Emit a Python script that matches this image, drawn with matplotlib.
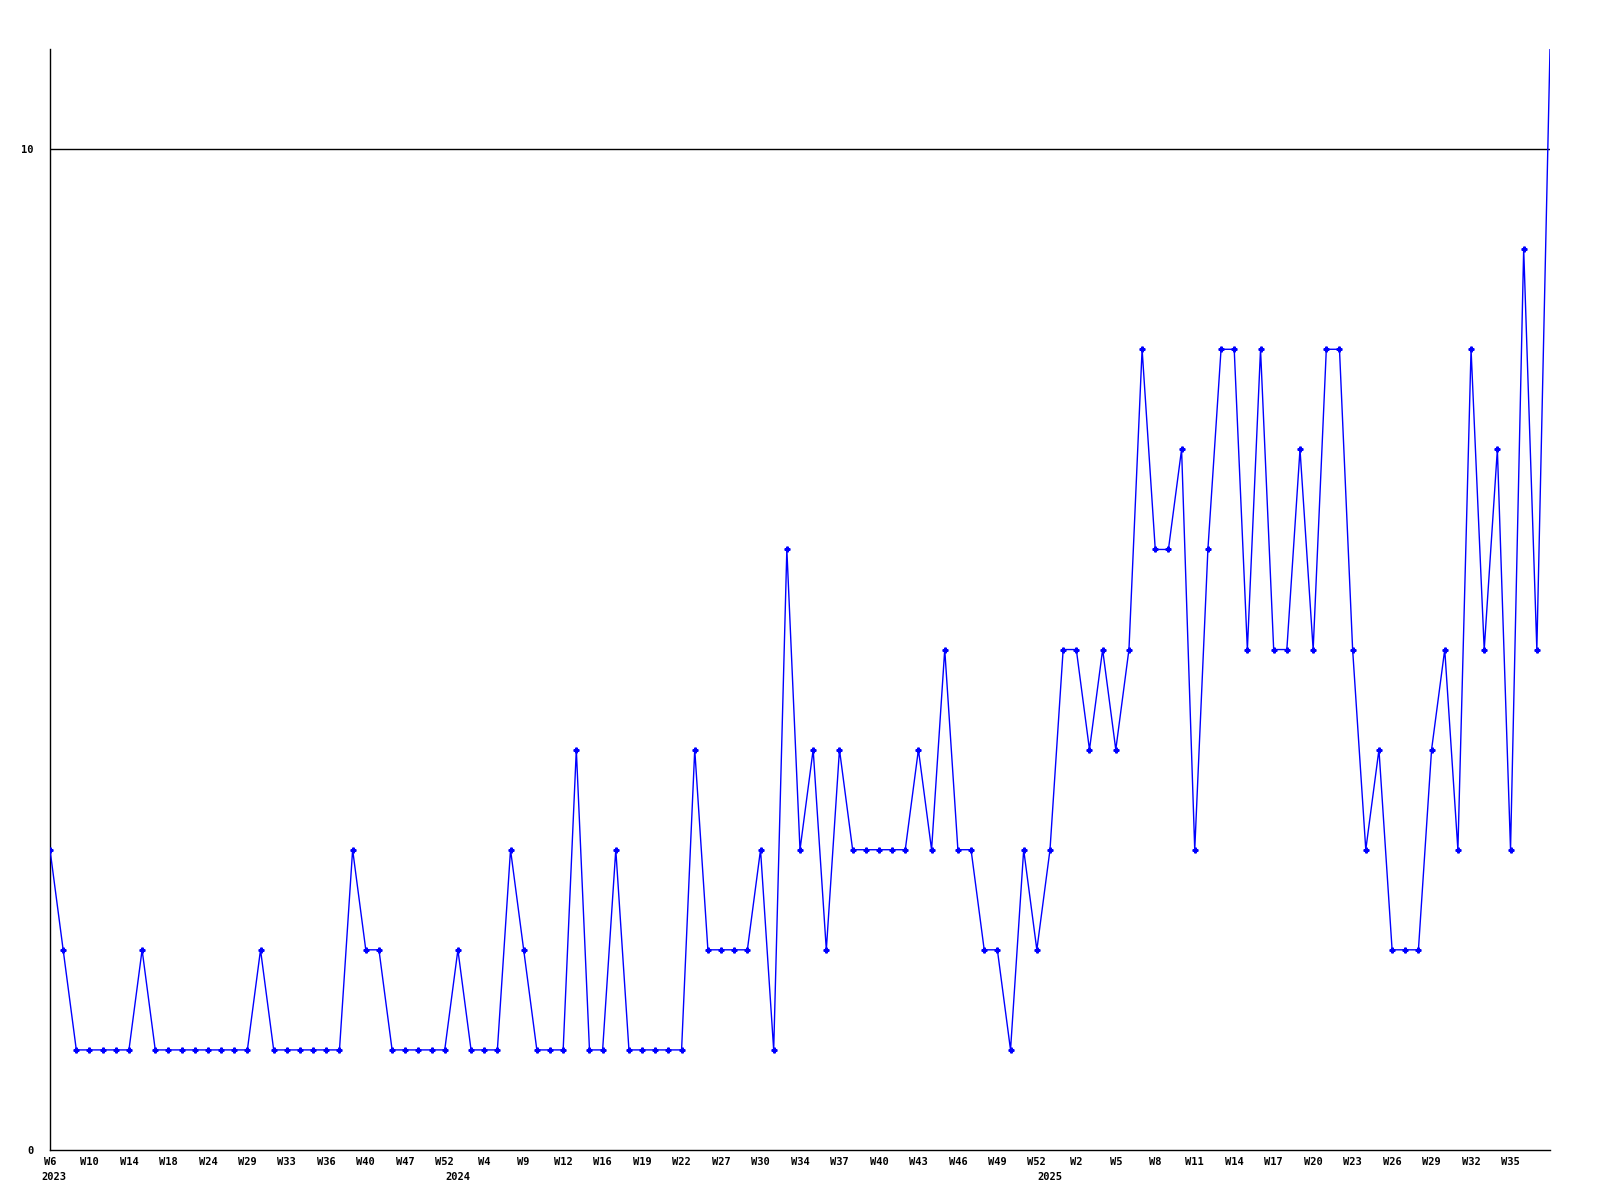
import numpy as np
import matplotlib
matplotlib.use("Agg")
import matplotlib.pyplot as plt
import matplotlib.transforms as mtransforms

# conteos semanales
valores = [3, 2, 1, 1, 1, 1, 1, 2, 1, 1, 1, 1, 1, 1, 1, 1, 2, 1, 1, 1,
           1, 1, 1, 3, 2, 2, 1, 1, 1, 1, 1, 2, 1, 1, 1, 3, 2, 1, 1, 1,
           4, 1, 1, 3, 1, 1, 1, 1, 1, 4, 2, 2, 2, 2, 3, 1, 6, 3, 4, 2,
           4, 3, 3, 3, 3, 3, 4, 3, 5, 3, 3, 2, 2, 1, 3, 2, 3, 5, 5, 4,
           5, 4, 5, 8, 6, 6, 7, 3, 6, 8, 8, 5, 8, 5, 5, 7, 5, 8, 8, 5,
           3, 4, 2, 2, 2, 4, 5, 3, 8, 5, 7, 3, 9, 5, 11]

semanas = ["W6", "W10", "W14", "W18", "W24", "W29", "W33", "W36", "W40", "W47",
           "W52", "W4", "W9", "W12", "W16", "W19", "W22", "W27", "W30", "W34",
           "W37", "W40", "W43", "W46", "W49", "W52", "W2", "W5", "W8", "W11",
           "W14", "W17", "W20", "W23", "W26", "W29", "W32", "W35"]
paso_etiquetas = 3

anios = ["2023", "2024", "2025"]
pos_anios = [0.3, 31, 76]

x = np.arange(len(valores))
fuente = {"family": "DejaVu Sans Mono", "weight": "bold", "size": 7.5}

fig = plt.figure(figsize=(16, 12), dpi=100)
ax = fig.add_axes([50/1600, 50/1200, 1500/1600, 1101/1200])

ax.axhline(10, color="black", lw=1.0, zorder=1)
# el ultimo punto queda en el borde, sin marcador
ax.plot(x, valores, color="#0000ff", lw=1.0, zorder=3)
ax.plot(x[:-1], valores[:-1], ls="none", marker="P", ms=3.5,
        mec="#0000ff", mfc="#0000ff", zorder=4)

ax.set_xlim(0, len(valores) - 1)
ax.set_ylim(0, 11)

for s in ["top", "right"]:
    ax.spines[s].set_visible(False)
for s in ["left", "bottom"]:
    ax.spines[s].set_linewidth(1.0)

ax.set_yticks([0, 10])
ax.set_yticklabels(["0", "10"], fontdict=fuente)
ax.tick_params(axis="y", length=0, pad=12)

ax.set_xticks(x[::paso_etiquetas][:len(semanas)])
ax.set_xticklabels(semanas, fontdict=fuente)
ax.tick_params(axis="x", length=0, pad=5)

trans = mtransforms.blended_transform_factory(ax.transData, fig.transFigure)
for a, p in zip(anios, pos_anios):
    ax.text(p, (1200 - 1177) / 1200, a, transform=trans, ha="center",
            va="center", **fuente)

fig.savefig("out.png", dpi=100, facecolor="white")
